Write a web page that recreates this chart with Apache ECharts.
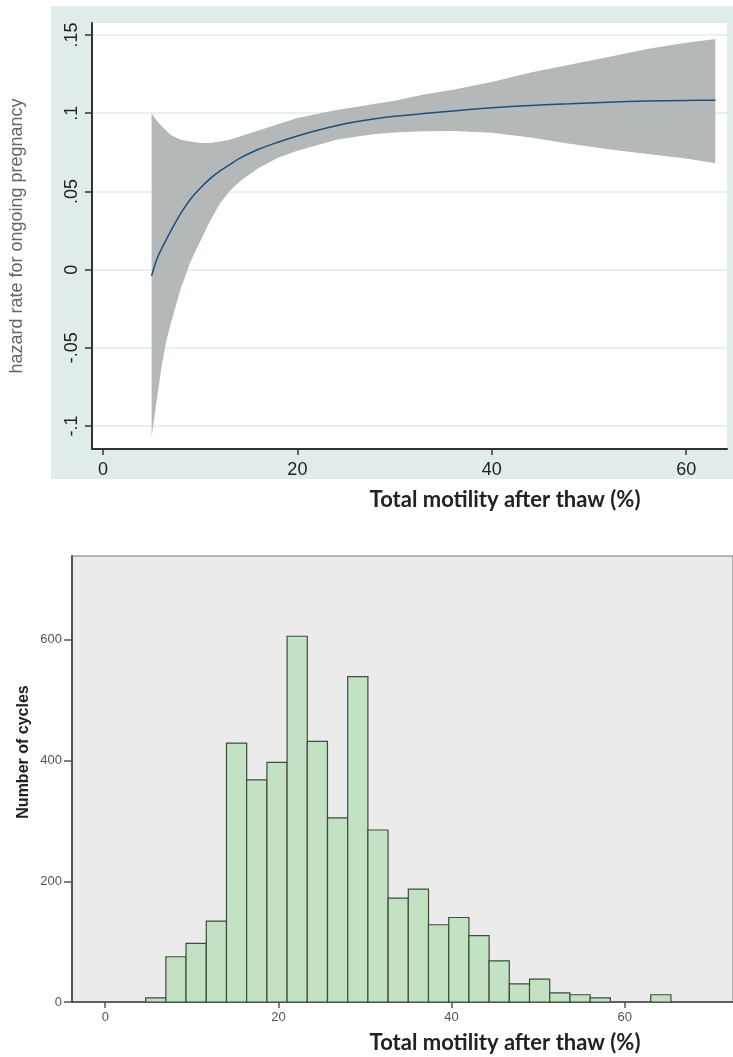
<!DOCTYPE html>
<html>
<head>
<meta charset="utf-8">
<script src="https://cdn.jsdelivr.net/npm/echarts@6/dist/echarts.min.js"></script>
<style>
  html, body { margin: 0; padding: 0; background: #fff; }
  #chart { width: 733px; height: 1057px; }
</style>
</head>
<body>
<div id="chart"></div>
<script>
// top panel: hazard curve with confidence band
const hazardX = [5, 5.5, 6, 6.5, 7, 8, 9, 10, 11, 12, 13, 14, 16, 18, 20, 22, 24, 26, 28, 30, 33, 36, 40, 44, 48, 52, 56, 60, 63];
const hazardRate = [-0.004, 0.006, 0.013, 0.019, 0.025, 0.036, 0.045, 0.052, 0.058, 0.063, 0.067, 0.071, 0.077, 0.0815, 0.0855, 0.089, 0.092, 0.0945, 0.0965, 0.098, 0.0998, 0.1015, 0.1035, 0.105, 0.106, 0.107, 0.1078, 0.1082, 0.1083];
const ciUpper = [0.1, 0.0955, 0.092, 0.089, 0.086, 0.083, 0.082, 0.081, 0.081, 0.082, 0.083, 0.085, 0.089, 0.093, 0.097, 0.0995, 0.102, 0.104, 0.106, 0.108, 0.112, 0.115, 0.12, 0.126, 0.131, 0.136, 0.141, 0.145, 0.1475];
const ciLower = [-0.107, -0.085, -0.063, -0.046, -0.034, -0.012, 0.005, 0.018, 0.031, 0.042, 0.05, 0.056, 0.065, 0.0715, 0.076, 0.0795, 0.083, 0.085, 0.0867, 0.0877, 0.0885, 0.0887, 0.0875, 0.0845, 0.0805, 0.077, 0.074, 0.071, 0.068];
const topYTicks = [-0.1, -0.05, 0, 0.05, 0.1, 0.15];
const topXTicks = [0, 20, 40, 60];

// bottom panel: histogram
const binStart = [4.67, 7, 9.33, 11.67, 14, 16.33, 18.67, 21, 23.33, 25.67, 28, 30.33, 32.67, 35, 37.33, 39.67, 42, 44.33, 46.67, 49, 51.33, 53.67, 56, 58.33, 60.67, 63];
const binWidth = 2.333;
const cycleCounts = [7, 75, 97, 134, 429, 368, 397, 606, 432, 305, 539, 285, 172, 187, 128, 140, 110, 68, 30, 38, 15, 12, 7, 0, 0, 12];
const bottomYTicks = [0, 200, 400, 600];
const bottomXTicks = [0, 20, 40, 60];

const xTitle = 'Total motility after thaw (%)';
const topYTitle = 'hazard rate for ongoing pregnancy';
const bottomYTitle = 'Number of cycles';

const chart = echarts.init(document.getElementById('chart'));

const lineData = hazardX.map((x, i) => [x, hazardRate[i]]);
const bandData = hazardX.map((x, i) => [x, ciLower[i], ciUpper[i]]);
const histData = binStart.map((s, i) => [s, s + binWidth, cycleCounts[i]]);

const fmtTop = v => (v === 0 ? '0' : String(v).replace('0.', '.'));

const option = {
    animation: false,
    graphic: [
        {
            type: 'rect', z: -10, silent: true,
            shape: { x: 51, y: 6, width: 682, height: 473 },
            style: { fill: '#e0ecec' }
        },
        {
            type: 'text', x: 505, y: 500,
            style: { text: xTitle, font: 'bold 22px Lato', fill: '#222', align: 'center', verticalAlign: 'middle' }
        },
        {
            type: 'text', x: 505, y: 1043,
            style: { text: xTitle, font: 'bold 22px Lato', fill: '#222', align: 'center', verticalAlign: 'middle' }
        },
        {
            type: 'text', x: 24, y: 752, rotation: Math.PI / 2,
            style: { text: bottomYTitle, font: 'bold 16px "Liberation Sans"', fill: '#222', align: 'center', verticalAlign: 'middle' }
        }
    ],
    grid: [
        { left: 91, top: 23, right: 6, height: 426, show: true, backgroundColor: '#fff', borderWidth: 0 },
        { left: 72, top: 556, right: -1, height: 446, show: true, backgroundColor: '#ebebeb', borderColor: '#777', borderWidth: 1 }
    ],
    xAxis: [
        {
            type: 'value', gridIndex: 0, min: -1.13, max: 64.2,
            axisLine: { onZero: false, lineStyle: { color: '#333', width: 2 } },
            axisTick: { customValues: topXTicks, length: 6, lineStyle: { color: '#333', width: 1.5 } },
            axisLabel: { customValues: topXTicks, margin: 12, fontSize: 18, color: '#222', fontFamily: 'Liberation Sans' },
            splitLine: { show: false }
        },
        {
            type: 'value', gridIndex: 1, min: -3.84, max: 72.5,
            axisLine: { onZero: false, lineStyle: { color: '#444', width: 1.5 } },
            axisTick: { customValues: bottomXTicks, length: 6, lineStyle: { color: '#555', width: 1.5 } },
            axisLabel: { customValues: bottomXTicks, margin: 9, fontSize: 13, color: '#555', fontFamily: 'Liberation Sans' },
            splitLine: { show: false }
        }
    ],
    yAxis: [
        {
            type: 'value', gridIndex: 0, min: -0.1147, max: 0.1577,
            name: topYTitle, nameLocation: 'middle', nameGap: 66,
            nameTextStyle: { fontSize: 18, color: '#666', fontFamily: 'Liberation Sans' },
            axisLine: { show: true, onZero: false, lineStyle: { color: '#333', width: 2 } },
            axisTick: { show: true, customValues: topYTicks, length: 7, lineStyle: { color: '#333', width: 1.5 } },
            axisLabel: { customValues: topYTicks, rotate: 90, margin: 11, fontSize: 18, color: '#222', fontFamily: 'Liberation Sans', formatter: fmtTop },
            splitLine: { show: true, lineStyle: { color: '#e0ecec', width: 1.5 } }
        },
        {
            type: 'value', gridIndex: 1, min: 0, max: 739,
            axisLine: { show: true, onZero: false, lineStyle: { color: '#555', width: 2 } },
            axisTick: { show: true, customValues: bottomYTicks, length: 8, lineStyle: { color: '#555', width: 1.5 } },
            axisLabel: { customValues: bottomYTicks, margin: 10, fontSize: 13, color: '#555', fontFamily: 'Liberation Sans' },
            splitLine: { show: false }
        }
    ],
    series: [
        {
            type: 'custom', xAxisIndex: 0, yAxisIndex: 0,
            data: bandData,
            encode: { x: 0, y: [1, 2] },
            renderItem: (params, api) => {
                if (params.dataIndex !== 0) return null;
                const up = bandData.map(d => api.coord([d[0], d[2]]));
                const low = bandData.map(d => api.coord([d[0], d[1]])).reverse();
                return {
                    type: 'polygon',
                    shape: { points: up.concat(low), smooth: 0 },
                    style: { fill: '#b5b8b9', stroke: null }
                };
            },
            silent: true, z: 1
        },
        {
            type: 'line', xAxisIndex: 0, yAxisIndex: 0,
            data: lineData, smooth: 0.3, showSymbol: false,
            lineStyle: { color: '#1d4f7a', width: 1.5 }, z: 2
        },
        {
            type: 'custom', xAxisIndex: 1, yAxisIndex: 1,
            data: histData,
            encode: { x: [0, 1], y: 2 },
            renderItem: (params, api) => {
                const p0 = api.coord([api.value(0), api.value(2)]);
                const p1 = api.coord([api.value(1), 0]);
                if (api.value(2) <= 0) return null;
                return {
                    type: 'rect',
                    shape: { x: p0[0], y: p0[1], width: p1[0] - p0[0], height: p1[1] - p0[1] },
                    style: { fill: '#c3e2c3', stroke: '#3d4c3d', lineWidth: 1.2 }
                };
            }
        }
    ]
};

chart.setOption(option);
window.addEventListener('resize', () => chart.resize());
</script>
</body>
</html>
